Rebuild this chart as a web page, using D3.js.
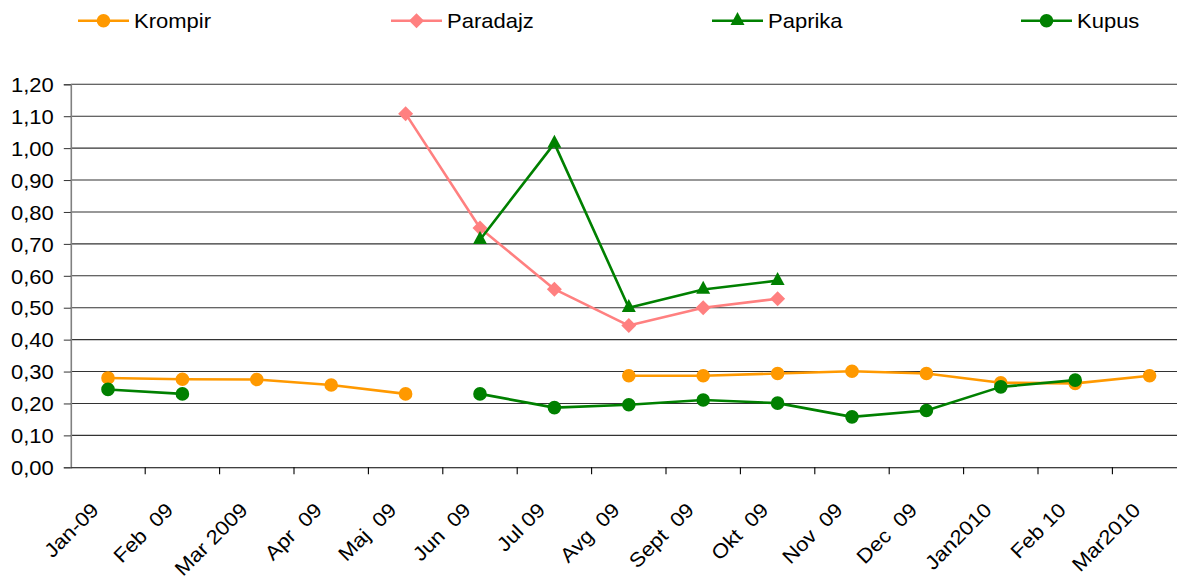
<!DOCTYPE html>
<html>
<head>
<meta charset="utf-8">
<script src="https://cdn.jsdelivr.net/npm/d3@7/dist/d3.min.js"></script>
<style>
  html, body { margin: 0; padding: 0; background: #fff; }
  svg { display: block; font-family: Arial, "Liberation Sans", sans-serif; }
  text { white-space: pre; }
</style>
</head>
<body>
<svg id="chart" width="1177" height="581"></svg>
<script>
// ---- data ----
const categories = ["Jan-09", "Feb  09", "Mar 2009", "Apr  09", "Maj  09", "Jun  09", "Jul 09", "Avg  09",
  "Sept  09", "Okt  09", "Nov  09", "Dec  09", "Jan2010", "Feb 10", "Mar2010"];
const krompir  = [0.280, 0.276, 0.275, 0.258, 0.230, null, null, 0.287, 0.287, 0.294, 0.301, 0.294, 0.265, 0.263, 0.287];
const paradajz = [null, null, null, null, 1.108, 0.750, 0.558, 0.444, 0.500, 0.528, null, null, null, null, null];
const paprika  = [null, null, null, null, null, 0.713, 1.015, 0.500, 0.557, 0.585, null, null, null, null, null];
const kupus    = [0.244, 0.230, null, null, null, 0.230, 0.187, 0.196, 0.211, 0.201, 0.158, 0.178, 0.252, 0.273, null];
const seriesNames = ["Krompir", "Paradajz", "Paprika", "Kupus"];
const yTicks = [0, 0.1, 0.2, 0.3, 0.4, 0.5, 0.6, 0.7, 0.8, 0.9, 1.0, 1.1, 1.2];

// ---- styles ----
const seriesStyle = [
  { name: seriesNames[0], values: krompir,  color: "#FF9900", marker: "circle" },
  { name: seriesNames[1], values: paradajz, color: "#FF8080", marker: "diamond" },
  { name: seriesNames[2], values: paprika,  color: "#008000", marker: "triangle" },
  { name: seriesNames[3], values: kupus,    color: "#008000", marker: "circle" }
];

const svg = d3.select("#chart");
const left = 70.8, bandW = 74.4;
const x = d3.scaleBand().domain(categories).range([left, left + bandW * categories.length]).padding(0);
const y = d3.scaleLinear().domain([0, 1.2]).range([467.3, 84.3]);
const right = left + bandW * categories.length;
const fmt = d => d.toFixed(2).replace(".", ",");
const cx = c => x(c) + x.bandwidth() / 2;

// gridlines
svg.append("g").selectAll("line").data(yTicks.filter(t => t > 0)).join("line")
  .attr("x1", left).attr("x2", right)
  .attr("y1", d => y(d)).attr("y2", d => y(d))
  .attr("stroke", "#333").attr("stroke-width", 1.1);

// y axis
const yAxis = d3.axisLeft(y).tickValues(yTicks).tickFormat(fmt).tickSize(7).tickPadding(10);
const gy = svg.append("g").attr("transform", `translate(${left},0)`).call(yAxis);
gy.select(".domain").attr("stroke", "#808080").attr("stroke-width", 1.6);
gy.selectAll(".tick line").attr("stroke", "#333");
gy.selectAll(".tick text").attr("font-size", 20).attr("fill", "#000")
  .attr("font-family", "Arial, 'Liberation Sans', sans-serif")
  .attr("transform", "scale(1.1,1)").attr("x", -17 / 1.1)
  .attr("dy", "0.36em");

// x axis
const xAxis = d3.axisBottom(x).tickSize(0).tickFormat("");
const gx = svg.append("g").attr("transform", `translate(0,${y(0)})`).call(xAxis);
gx.select(".domain").attr("stroke", "#000").attr("stroke-width", 1.1);
// tick marks at category boundaries
svg.append("g").selectAll("line").data(categories.slice(1)).join("line")
  .attr("x1", d => x(d)).attr("x2", d => x(d))
  .attr("y1", y(0)).attr("y2", y(0) + 7)
  .attr("stroke", "#000").attr("stroke-width", 1.1);
// rotated labels
svg.append("g").selectAll("text").data(categories).join("text")
  .attr("transform", d => `translate(${cx(d) - 8},${y(0) + 44}) rotate(-45) scale(1.1,1)`)
  .attr("text-anchor", "end")
  .attr("font-size", 20).attr("fill", "#000")
  .text(d => d);

// markers
function triangleType() {
  return { draw(ctx, size) { const h = 13, w = 14;
    ctx.moveTo(0, -h * 2 / 3); ctx.lineTo(w / 2, h / 3); ctx.lineTo(-w / 2, h / 3); ctx.closePath(); } };
}
function markerPath(kind) {
  if (kind === "circle") return d3.symbol(d3.symbolCircle, Math.PI * 6.8 * 6.8)();
  if (kind === "diamond") return d3.symbol({ draw(ctx) { const r = 7.5;
    ctx.moveTo(0, -r); ctx.lineTo(r, 0); ctx.lineTo(0, r); ctx.lineTo(-r, 0); ctx.closePath(); } })();
  return d3.symbol(triangleType())();
}

const line = d3.line()
  .defined(d => d.v != null)
  .x(d => cx(d.c)).y(d => y(d.v));

seriesStyle.forEach(s => {
  const pts = categories.map((c, i) => ({ c, v: s.values[i] }));
  const g = svg.append("g");
  g.append("path").datum(pts).attr("d", line)
    .attr("fill", "none").attr("stroke", s.color).attr("stroke-width", 2.6)
    .attr("stroke-linejoin", "round");
  g.selectAll("path.m").data(pts.filter(p => p.v != null)).join("path")
    .attr("class", "m")
    .attr("transform", p => `translate(${cx(p.c)},${y(p.v)})`)
    .attr("d", markerPath(s.marker))
    .attr("fill", s.color);
});

// legend
const legendX = [78, 391, 712, 1021];
const lg = svg.append("g");
seriesStyle.forEach((s, i) => {
  const g = lg.append("g").attr("transform", `translate(${legendX[i]},20.7)`);
  g.append("line").attr("x1", 0).attr("x2", 51).attr("y1", 0).attr("y2", 0)
    .attr("stroke", s.color).attr("stroke-width", 2.6);
  g.append("path").attr("transform", "translate(25.5,0)").attr("d", markerPath(s.marker)).attr("fill", s.color);
  g.append("text").attr("transform", "translate(56,7) scale(1.1,1)")
    .attr("font-size", 20).attr("fill", "#000").text(s.name);
});
</script>
</body>
</html>
